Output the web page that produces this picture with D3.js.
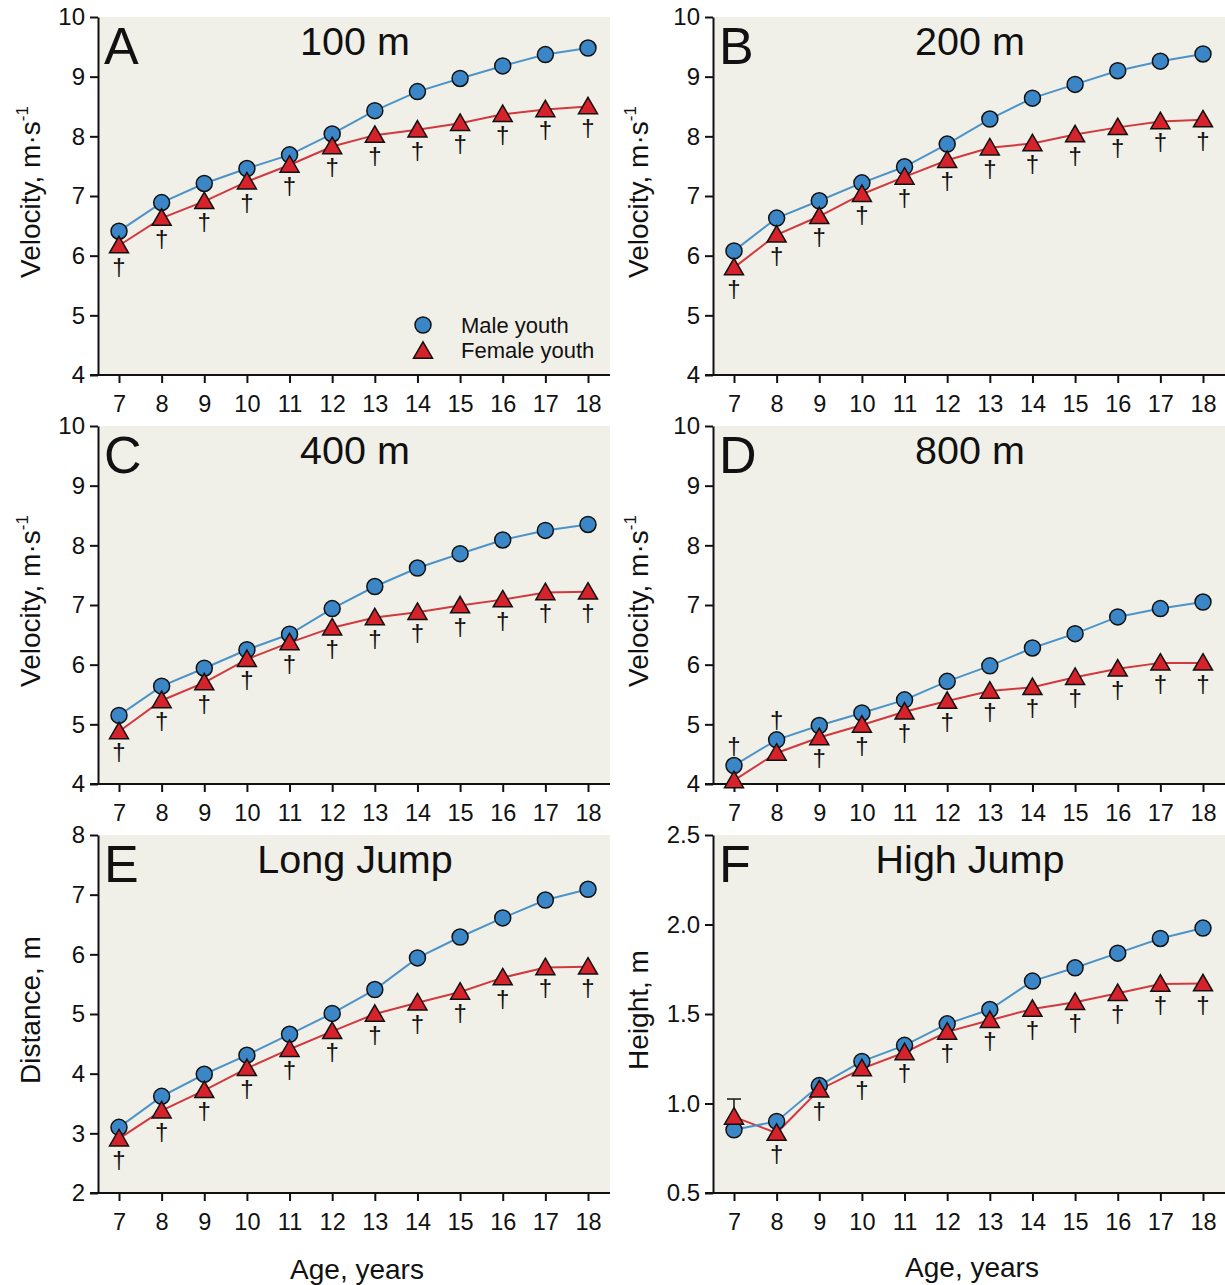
<!DOCTYPE html>
<html>
<head>
<meta charset="utf-8">
<script src="https://cdn.jsdelivr.net/npm/d3@7"></script>
<style>
  html, body { margin: 0; padding: 0; background: #ffffff; }
  svg { display: block; font-family: "Liberation Sans", Arial, Helvetica, sans-serif; }
</style>
</head>
<body>
<svg id="chart" width="1225" height="1285"></svg>
<script>
// ---------------- DATA ----------------
const ages = [7, 8, 9, 10, 11, 12, 13, 14, 15, 16, 17, 18];

const male100   = [6.41, 6.89, 7.21, 7.46, 7.69, 8.04, 8.43, 8.75, 8.97, 9.18, 9.37, 9.48];
const female100 = [6.17, 6.63, 6.91, 7.24, 7.52, 7.83, 8.02, 8.11, 8.22, 8.37, 8.45, 8.50];

const male200   = [6.08, 6.63, 6.92, 7.22, 7.49, 7.87, 8.29, 8.64, 8.87, 9.10, 9.26, 9.38];
const female200 = [5.80, 6.35, 6.66, 7.03, 7.32, 7.60, 7.81, 7.88, 8.03, 8.15, 8.25, 8.28];

const male400   = [5.15, 5.64, 5.94, 6.25, 6.51, 6.94, 7.31, 7.62, 7.86, 8.09, 8.25, 8.35];
const female400 = [4.88, 5.40, 5.70, 6.09, 6.37, 6.62, 6.79, 6.88, 6.99, 7.09, 7.21, 7.22];

const male800   = [4.31, 4.74, 4.98, 5.19, 5.41, 5.72, 5.98, 6.28, 6.52, 6.80, 6.94, 7.05];
const female800 = [4.06, 4.52, 4.78, 4.99, 5.21, 5.39, 5.56, 5.62, 5.79, 5.93, 6.03, 6.03];

const maleLJ    = [3.10, 3.62, 3.99, 4.31, 4.66, 5.01, 5.41, 5.94, 6.29, 6.61, 6.91, 7.09];
const femaleLJ  = [2.91, 3.38, 3.72, 4.09, 4.41, 4.71, 5.00, 5.19, 5.37, 5.61, 5.78, 5.79];

const maleHJ    = [0.853, 0.900, 1.100, 1.235, 1.325, 1.445, 1.525, 1.684, 1.758, 1.840, 1.922, 1.980];
const femaleHJ  = [0.925, 0.835, 1.077, 1.195, 1.285, 1.400, 1.465, 1.528, 1.566, 1.616, 1.668, 1.670];
// upper error bar (SD) shown only for female 7-year-olds in high jump
const femaleHJErrUp = [0.10, null, null, null, null, null, null, null, null, null, null, null];

// significance daggers: "below" = under female marker, "above" = over male marker
const daggerAll   = ages.map(() => "below");
const dagger800   = ["above", "above", "below", "below", "below", "below", "below", "below", "below", "below", "below", "below"];
const daggerHJ    = [null, "below", "below", "below", "below", "below", "below", "below", "below", "below", "below", "below"];

const yTicksVel = [4, 5, 6, 7, 8, 9, 10];
const yTicksLJ  = [2, 3, 4, 5, 6, 7, 8];
const yTicksHJ  = [0.5, 1.0, 1.5, 2.0, 2.5];

const panelLetters = ["A", "B", "C", "D", "E", "F"];
const panelTitles  = ["100 m", "200 m", "400 m", "800 m", "Long Jump", "High Jump"];
const legendLabels = ["Male youth", "Female youth"];
const xAxisTitle = "Age, years";

// ---------------- STYLE / LAYOUT ----------------
const BG = "#F1F0E8";
const MALE_FILL = "#3A86C6", MALE_LINE = "#4B93C8";
const FEM_FILL = "#D6222A", FEM_LINE = "#D2383D";
const FONT = "'Liberation Sans', Arial, sans-serif";

const colX = [98, 713];     // y-axis x position per column
const rowY = [17, 426, 835];// plot top per row
const plotW = 512, plotH = 358;
const xInsetL = 21, xInsetR = 21;

const panels = [
  {male: male100, female: female100, ticks: yTicksVel, domain: [4, 10], ylab: "vel", dag: daggerAll, fmt: d3.format("d")},
  {male: male200, female: female200, ticks: yTicksVel, domain: [4, 10], ylab: "vel", dag: daggerAll, fmt: d3.format("d")},
  {male: male400, female: female400, ticks: yTicksVel, domain: [4, 10], ylab: "vel", dag: daggerAll, fmt: d3.format("d")},
  {male: male800, female: female800, ticks: yTicksVel, domain: [4, 10], ylab: "vel", dag: dagger800, fmt: d3.format("d")},
  {male: maleLJ, female: femaleLJ, ticks: yTicksLJ, domain: [2, 8], ylab: "Distance, m", dag: daggerAll, fmt: d3.format("d")},
  {male: maleHJ, female: femaleHJ, ticks: yTicksHJ, domain: [0.5, 2.5], ylab: "Height, m", dag: daggerHJ, fmt: d3.format(".1f"), errUp: femaleHJErrUp}
];

const svg = d3.select("#chart");

function triPath(cx, cy, s) {
  const h = s * Math.sqrt(3) / 2;
  return `M${cx},${cy - h / 2 - 1}L${cx + s / 2},${cy + h / 2 - 1}L${cx - s / 2},${cy + h / 2 - 1}Z`;
}

panels.forEach((p, i) => {
  const col = i % 2, row = Math.floor(i / 2);
  const x0 = colX[col], y0 = rowY[row];
  const g = svg.append("g");

  const x = d3.scaleLinear().domain([7, 18]).range([x0 + xInsetL, x0 + plotW - xInsetR - 1]);
  const y = d3.scaleLinear().domain(p.domain).range([y0 + plotH, y0]);

  // background
  g.append("rect").attr("x", x0).attr("y", y0).attr("width", plotW).attr("height", plotH).attr("fill", BG);

  // y axis
  const ya = g.append("g").attr("transform", `translate(${x0},0)`)
    .call(d3.axisLeft(y).tickValues(p.ticks).tickFormat(p.fmt).tickSize(8).tickSizeOuter(0).tickPadding(5));
  ya.attr("font-size", null).attr("font-family", null);
  ya.select(".domain").attr("stroke", "#111").attr("stroke-width", 2);
  ya.selectAll(".tick line").attr("stroke", "#111").attr("stroke-width", 2);
  ya.selectAll(".tick text").style("font-size", "24px").attr("fill", "#111").style("font-family", FONT);

  // x axis
  const xa = g.append("g").attr("transform", `translate(0,${y0 + plotH})`)
    .call(d3.axisBottom(x).tickValues(ages).tickFormat(d3.format("d")).tickSize(8).tickSizeOuter(0).tickPadding(12));
  xa.attr("font-size", null).attr("font-family", null);
  xa.select(".domain").remove();
  xa.selectAll(".tick line").attr("stroke", "#111").attr("stroke-width", 2);
  xa.selectAll(".tick text").style("font-size", "23.5px").attr("fill", "#111").style("font-family", FONT);
  g.append("line").attr("x1", x0 - 8).attr("x2", x0 + plotW).attr("y1", y0 + plotH).attr("y2", y0 + plotH)
    .attr("stroke", "#111").attr("stroke-width", 2);

  // y label
  const ylx = col === 0 ? 40 : 648;
  const ylt = g.append("text").attr("transform", `translate(${ylx},${y0 + plotH / 2 - 4}) rotate(-90)`)
    .attr("text-anchor", "middle").attr("font-size", 28).attr("fill", "#111");
  if (p.ylab === "vel") {
    ylt.append("tspan").text("Velocity, m·s");
    ylt.append("tspan").text("-1").attr("font-size", 17).attr("dy", -12);
  } else {
    ylt.text(p.ylab);
  }

  // panel letter and title
  g.append("text").attr("x", x0 + 6).attr("y", y0 + 47).attr("font-size", 52).attr("fill", "#111").text(panelLetters[i]);
  g.append("text").attr("x", x0 + plotW / 2 + 1).attr("y", y0 + 38).attr("text-anchor", "middle")
    .attr("font-size", 39.5).attr("fill", "#111").text(panelTitles[i]);

  const line = d3.line().x((d, k) => x(ages[k])).y(d => y(d)).curve(d3.curveLinear);

  g.append("path").datum(p.female).attr("d", line).attr("fill", "none").attr("stroke", FEM_LINE).attr("stroke-width", 2);
  g.append("path").datum(p.male).attr("d", line).attr("fill", "none").attr("stroke", MALE_LINE).attr("stroke-width", 2);

  // error bars
  if (p.errUp) {
    p.errUp.forEach((e, k) => {
      if (e == null) return;
      const cx = x(ages[k]);
      g.append("line").attr("x1", cx).attr("x2", cx).attr("y1", y(p.female[k])).attr("y2", y(p.female[k] + e))
        .attr("stroke", "#222").attr("stroke-width", 1.6);
      g.append("line").attr("x1", cx - 7).attr("x2", cx + 7).attr("y1", y(p.female[k] + e)).attr("y2", y(p.female[k] + e))
        .attr("stroke", "#222").attr("stroke-width", 1.6);
    });
  }

  // male markers
  g.selectAll("circle.m").data(p.male).enter().append("circle")
    .attr("cx", (d, k) => x(ages[k])).attr("cy", d => y(d)).attr("r", 8)
    .attr("fill", MALE_FILL).attr("stroke", "#111").attr("stroke-width", 1.5);
  // female markers
  g.selectAll("path.f").data(p.female).enter().append("path")
    .attr("d", (d, k) => triPath(x(ages[k]), y(d), 19))
    .attr("fill", FEM_FILL).attr("stroke", "#111").attr("stroke-width", 1.5).attr("stroke-linejoin", "miter");

  // daggers
  p.dag.forEach((pos, k) => {
    if (!pos) return;
    const cx = x(ages[k]);
    const cy = pos === "below" ? y(p.female[k]) + 21 : y(p.male[k]) - 20;
    g.append("text").attr("x", cx).attr("y", cy + 8).attr("text-anchor", "middle")
      .attr("font-size", 24).attr("fill", "#111").text("†");
  });

  // legend in panel A
  if (i === 0) {
    const lx = 423, ly = 325;
    g.append("circle").attr("cx", lx).attr("cy", ly).attr("r", 8).attr("fill", MALE_FILL).attr("stroke", "#111").attr("stroke-width", 1.5);
    g.append("path").attr("d", triPath(lx, ly + 26, 19)).attr("fill", FEM_FILL).attr("stroke", "#111").attr("stroke-width", 1.5);
    g.append("text").attr("x", 461).attr("y", ly + 8).attr("font-size", 22).attr("fill", "#111").text(legendLabels[0]);
    g.append("text").attr("x", 461).attr("y", ly + 33).attr("font-size", 22).attr("fill", "#111").text(legendLabels[1]);
  }

  // x-axis title on bottom row
  if (row === 2) {
    g.append("text").attr("x", x0 + plotW / 2 + 3).attr("y", col === 0 ? 1279 : 1277).attr("text-anchor", "middle")
      .attr("font-size", 28).attr("fill", "#111").text(xAxisTitle);
  }
});
</script>
</body>
</html>
